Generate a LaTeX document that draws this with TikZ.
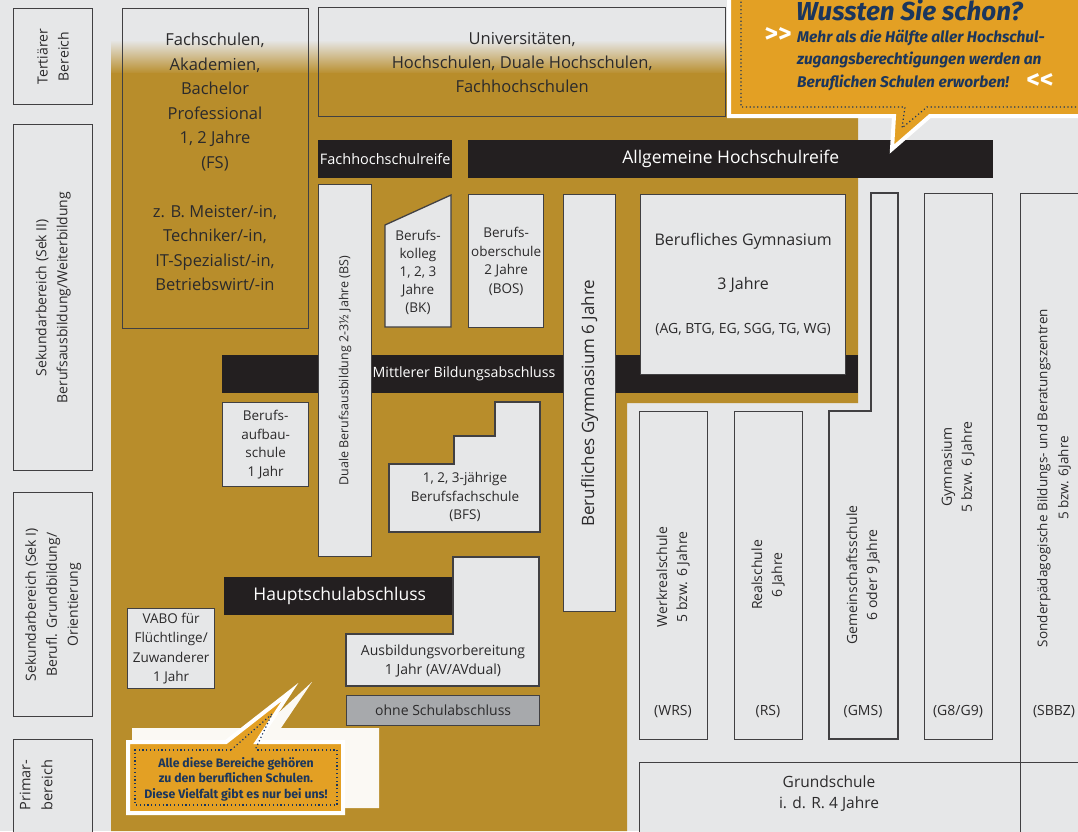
\documentclass[tikz,border=0pt]{standalone}
\usepackage{xcolor}
\usepackage{fontspec}
\setmainfont{Open Sans}
\newfontfamily\calloutfont{Fira Sans}
\usepackage{tikz}
\usetikzlibrary{positioning}
\definecolor{bggray}{HTML}{E6E7E8}
\definecolor{gold}{HTML}{B88D2B}
\definecolor{boxline}{HTML}{414042}
\definecolor{barblack}{HTML}{231F20}
\definecolor{darktext}{HTML}{2B2A2B}
\definecolor{ohnegray}{HTML}{A7A9AC}
\definecolor{callout}{HTML}{E3A024}
\definecolor{navy}{HTML}{1B365D}
\newcommand{\fsize}[2]{\fontsize{#1}{#2}\selectfont}

\begin{document}
\begin{tikzpicture}[x=1pt, y=-1pt,
    schoolbox/.style={draw=boxline, fill=bggray, line width=1.3pt, text=darktext,
                      align=center, inner sep=0pt, anchor=north west},
    areabox/.style={draw=boxline, line width=1.3pt, text=darktext,
                    align=center, inner sep=0pt, anchor=north west},
    abschluss/.style={fill=barblack, text=white, inner sep=0pt, anchor=north west},
    sidelabel/.style={rotate=90, align=center, text=darktext, font=\fsize{14}{21}},
    collabel/.style={rotate=90, align=center, text=darktext, font=\fsize{14}{20}},
    shortname/.style={text=darktext, font=\fsize{14}{18}},
    dotline/.style={navy, line width=1.2pt, dash pattern=on 1.2pt off 2.6pt}]
  \useasboundingbox (0,0) rectangle (1078,831);
  \fill[bggray] (0,0) rectangle (1078,831);

  % gold area of the beruflichen Schulen
  \shade[top color=bggray, bottom color=gold] (111,40) rectangle (858,74);
  \fill[gold] (111,73) -- (858,73) -- (858,403) -- (627,403) -- (627,831) -- (111,831) -- cycle;

  % Bereiche
  \node[areabox, fill=bggray, minimum width=79, minimum height=96] (tertiaer) at (13,8) {};
  \node[sidelabel] (tertiaerlbl) at (tertiaer.center) {Tertiärer\\Bereich};
  \node[areabox, fill=bggray, minimum width=79, minimum height=346] (sekzwei) at (13,124) {};
  \node[sidelabel] (sekzweilbl) at (sekzwei.center) {Sekundarbereich (Sek II)\\Berufsausbildung/Weiterbildung};
  \node[areabox, fill=bggray, minimum width=79, minimum height=224] (sekeins) at (13,492) {};
  \node[sidelabel] (sekeinslbl) at (sekeins.center) {Sekundarbereich (Sek I)\\Berufl. Grundbildung/\\Orientierung};
  \node[areabox, fill=bggray, minimum width=79, minimum height=110] (primar) at (13,739) {};
  \node[sidelabel, font=\fsize{14.5}{22}] (primarlbl) at (36,785) {Primar-\\bereich};

  % tertiaer
  \node[areabox, minimum width=186, minimum height=320] (fs) at (122,8) {};
  \node[align=center, text=darktext, font=\fsize{16.5}{24.5}] (fslbl) at (215,162)
    {Fachschulen,\\Akademien,\\Bachelor\\Professional\\1, 2 Jahre\\(FS)\\[24.5pt]
     z. B. Meister/-in,\\Techniker/-in,\\IT-Spezialist/-in,\\Betriebswirt/-in};
  \node[areabox, minimum width=407, minimum height=109, font=\fsize{16.5}{24}] (uni) at (318,7)
    {Universitäten,\\Hochschulen, Duale Hochschulen,\\Fachhochschulen};

  % Abschluesse
  \node[abschluss, minimum width=134, minimum height=38, font=\fsize{14.5}{16}] (fhr) at (318,140) {Fachhochschulreife};
  \node[abschluss, minimum width=525, minimum height=38, font=\fsize{17.5}{20}] (ahr) at (468,140) {Allgemeine Hochschulreife};
  \node[abschluss, minimum width=636, minimum height=38] (mba) at (222,355) {};
  \node[text=white, font=\fsize{14.2}{18}] (mbalbl) at (464,374) {Mittlerer Bildungsabschluss};

  % Sek II
  \node[schoolbox, minimum width=53, minimum height=372] (bs) at (318,184) {};
  \node[collabel, font=\fsize{12.5}{15}] (bslbl) at (bs.center) {Duale Berufsausbildung 2-3½ Jahre (BS)};
  \draw[draw=boxline, fill=bggray, line width=1.3pt] (385,225) -- (451,195) -- (451,327) -- (385,327) -- cycle;
  \node[align=center, text=darktext, font=\fsize{13.5}{18}] (bk) at (418,272)
    {Berufs-\\kolleg\\1, 2, 3\\Jahre\\(BK)};
  \node[schoolbox, minimum width=75, minimum height=133, font=\fsize{13.5}{18.5}] (bos) at (468,194)
    {Berufs-\\oberschule\\2 Jahre\\(BOS)};
  \node[schoolbox, minimum width=52, minimum height=417] (bgsechs) at (563,194) {};
  \node[collabel, font=\fsize{17}{20}] (bgsechslbl) at (bgsechs.center) {Berufliches Gymnasium 6 Jahre};
  \node[schoolbox, minimum width=205, minimum height=180, font=\fsize{16}{20}] (bg) at (640,194)
    {Berufliches Gymnasium\\[24pt]3 Jahre\\[24pt]{\fsize{14}{18}(AG, BTG, EG, SGG, TG, WG)}};
  \node[schoolbox, minimum width=86, minimum height=84, font=\fsize{13.5}{18.5}] (bas) at (222,402)
    {Berufs-\\aufbau-\\schule\\1 Jahr};
  \draw[draw=boxline, fill=bggray, line width=1.3pt]
    (495,402) -- (540,402) -- (540,532) -- (389,532) -- (389,464) -- (454,464) -- (454,436) -- (495,436) -- cycle;
  \node[align=center, text=darktext, font=\fsize{13.5}{18.5}] (bfs) at (465,497)
    {1, 2, 3-jährige\\Berufsfachschule\\(BFS)};

  % Sek I
  \node[abschluss, minimum width=231, minimum height=38, font=\fsize{17.5}{20}] (hsa) at (224,577) {Hauptschulabschluss};
  \draw[draw=boxline, fill=bggray, line width=1.3pt]
    (453,557) -- (539,557) -- (539,686) -- (346,686) -- (346,634) -- (453,634) -- cycle;
  \node[align=center, text=darktext, font=\fsize{14}{19}] (av) at (443,661)
    {Ausbildungsvorbereitung\\1 Jahr (AV/AVdual)};
  \node[schoolbox, fill=ohnegray, minimum width=193, minimum height=30, font=\fsize{14}{16}] (ohne) at (346,695)
    {ohne Schulabschluss};
  \node[schoolbox, minimum width=87, minimum height=80, font=\fsize{13.5}{19.5}] (vabo) at (127,608)
    {VABO für\\Flüchtlinge/\\Zuwanderer\\1 Jahr};

  % allgemeinbildende Schulen
  \node[schoolbox, minimum width=68, minimum height=328] (wrs) at (639,411) {};
  \node[collabel] (wrslbl) at (673,577) {Werkrealschule\\5 bzw. 6 Jahre};
  \node[shortname] (wrskurz) at (673,712) {(WRS)};
  \node[schoolbox, minimum width=68, minimum height=328] (rs) at (734,411) {};
  \node[collabel] (rslbl) at (768,575) {Realschule\\6 Jahre};
  \node[shortname] (rskurz) at (768,712) {(RS)};
  \draw[draw=boxline, fill=bggray, line width=1.3pt]
    (871,193) -- (898,193) -- (898,739) -- (829,739) -- (829,411) -- (871,411) -- cycle;
  \node[collabel] (gmslbl) at (863,575) {Gemeinschaftsschule\\6 oder 9 Jahre};
  \node[shortname] (gmskurz) at (863,712) {(GMS)};
  \node[schoolbox, minimum width=68, minimum height=546] (gym) at (924,193) {};
  \node[collabel] (gymlbl) at (958,467) {Gymnasium\\5 bzw. 6 Jahre};
  \node[shortname] (gymkurz) at (958,712) {(G8/G9)};
  \node[schoolbox, minimum width=80, minimum height=569] (sbbz) at (1020,193) {};
  \node[collabel, font=\fsize{13.5}{21}] (sbbzlbl) at (1054,478) {Sonderpädagogische Bildungs- und Beratungszentren\\5 bzw. 6Jahre};
  \node[shortname] (sbbzkurz) at (1054,712) {(SBBZ)};
  \node[schoolbox, minimum width=80, minimum height=100] (sbbzunten) at (1020,762) {};
  \node[schoolbox, minimum width=381, minimum height=100] (gs) at (639,762) {};
  \node[align=center, text=darktext, font=\fsize{15.5}{21}] (gslbl) at (829,794) {Grundschule\\i. d. R. 4 Jahre};

  % Hinweis oben rechts
  \draw[white, line width=4pt, fill=callout]
    (729,-6) -- (1086,-6) -- (1086,116) -- (930,116) -- (892,149) -- (894,116) -- (729,116) -- cycle;
  \draw[dotline] (741,-6) -- (741,107) -- (905,107) -- (902,128) -- (927,107) -- (1086,107);
  \node[anchor=base west, inner sep=0pt, text=navy, font=\calloutfont\bfseries\itshape\fsize{26}{26}] (wussten) at (796,20)
    {Wussten Sie schon?};
  \node[anchor=west, inner sep=0pt, align=left, text=navy, font=\calloutfont\bfseries\itshape\fsize{15.5}{22.5}] (mehr) at (797,60)
    {Mehr als die Hälfte aller Hochschul-\\zugangsberechtigungen werden an\\Beruflichen Schulen erworben!};
  \node[text=white, font=\calloutfont\bfseries\fsize{26}{26}] (auf) at (778,35) {>>};
  \node[text=white, font=\calloutfont\bfseries\fsize{26}{26}] (zu) at (1040,81) {<<};

  % Hinweis unten links
  \fill[white, opacity=0.95]
    (132,728) -- (262,728) -- (312,682) -- (281,728) -- (379,728) -- (379,808) -- (132,808) -- cycle;
  \draw[white, line width=4pt, fill=callout]
    (128,742) -- (226,742) -- (290,692) -- (257,742) -- (343,742) -- (343,813) -- (128,813) -- cycle;
  \draw[dotline] (231,750) -- (135,750) -- (135,805) -- (337,805) -- (337,750) -- (255,750);
  \draw[dotline] (231,750) -- (272,714) -- (255,750);
  \node[align=center, text=navy, font=\calloutfont\bfseries\fsize{12.3}{15.5}] (vielfalt) at (236,779)
    {Alle diese Bereiche gehören\\zu den beruflichen Schulen.\\Diese Vielfalt gibt es nur bei uns!};
\end{tikzpicture}
\end{document}
